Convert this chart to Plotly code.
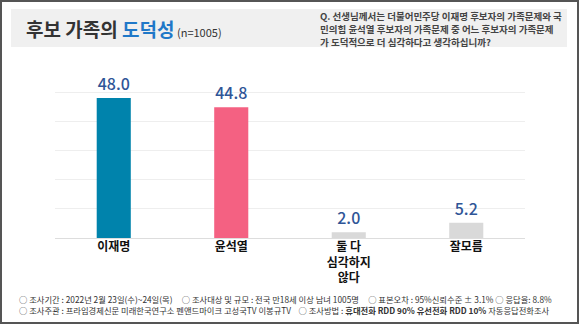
import plotly.graph_objects as go

categories = ["이재명", "윤석열", "둘 다<br>심각하지<br>않다", "잘모름"]
values = [48.0, 44.8, 2.0, 5.2]
bar_colors = ["#0083AC", "#F46182", "#D9D9D9", "#D9D9D9"]

title_main = "후보 가족의 "
title_accent = "도덕성"
title_n = "(n=1005)"
question_lines = [
    "Q. 선생님께서는 더불어민주당 이재명 후보자의 가족문제와 국",
    "민의힘 윤석열 후보자의 가족문제 중 어느 후보자의 가족문제",
    "가 도덕적으로 더 심각하다고 생각하십니까?",
]
footer_lines = [
    "○ 조사기간 : 2022년 2월 23일(수)~24일(목)     ○ 조사대상 및 규모 : 전국 만18세 이상 남녀 1005명     ○ 표본오차 : 95%신뢰수준 ± 3.1% ○ 응답율: 8.8%",
    "○ 조사주관 : 프라임경제신문 미래한국연구소 펜앤드마이크 고성국TV 이봉규TV    ○ 조사방법 : <b>휴대전화 RDD 90% 유선전화 RDD 10%</b> 자동응답전화조사",
]

W, H = 580, 326
ML, MR, MT, MB = 55, 55, 63, 88
PW, PH = W - ML - MR, H - MT - MB

def px(x):
    return (x - ML) / PW

def py(y):
    return (H - MB - y) / PH

FONT = "Noto Sans CJK KR"

fig = go.Figure(
    go.Bar(
        x=categories,
        y=values,
        marker=dict(color=bar_colors, line=dict(width=0)),
        width=0.29,
        text=[f"{v:.1f}" for v in values],
        textposition="outside",
        cliponaxis=False,
        textfont=dict(family=FONT, size=16, color="#2F5597", weight=500),
    )
)

shapes = [
    # outer frame
    dict(type="rect", xref="paper", yref="paper", x0=px(1), x1=px(578), y0=py(1), y1=py(323),
         line=dict(color="#555555", width=2), fillcolor="rgba(0,0,0,0)", layer="below"),
    # title band
    dict(type="rect", xref="paper", yref="paper", x0=px(11), x1=px(567), y0=py(9), y1=py(47),
         line=dict(width=0), fillcolor="#F0F0F0", layer="below"),
]

annotations = [
    dict(xref="paper", yref="paper", x=px(24), y=py(28), xanchor="left", yanchor="middle",
         showarrow=False,
         text=f"<b>{title_main}</b><b><span style='color:#1F78C8'>{title_accent}</span></b>"
              f"<span style='font-size:11px'> {title_n}</span>",
         font=dict(family=FONT, size=19, color="#333333")),
    dict(xref="paper", yref="paper", x=px(17), y=py(304.5), xanchor="left", yanchor="middle",
         align="left", showarrow=False,
         text="<br>".join(footer_lines),
         font=dict(family=FONT, size=8.3, color="#333333")),
]
for i, line in enumerate(question_lines):
    annotations.append(
        dict(xref="paper", yref="paper", x=px(318), y=py(16.5 + 12.8 * i), xanchor="left",
             yanchor="middle", align="left", showarrow=False,
             text=f"<b>{line}</b>",
             font=dict(family=FONT, size=9.5, color="#444444"))
    )

fig.update_layout(
    width=W, height=H,
    margin=dict(l=ML, r=MR, t=MT, b=MB),
    paper_bgcolor="white", plot_bgcolor="white",
    showlegend=False,
    shapes=shapes,
    annotations=annotations,
    bargap=0.2,
    font=dict(family=FONT),
)
fig.update_yaxes(range=[0, 60], dtick=10, showticklabels=False, gridcolor="#EEEEEE",
                 gridwidth=1, zeroline=True, zerolinecolor="#DDDDDD", zerolinewidth=1,
                 showline=False)
fig.update_xaxes(tickfont=dict(family=FONT, size=12, color="#111111"),
                 tickvals=categories, ticktext=[f"<b>{c}</b>" for c in categories],
                 showline=False, ticks="")

fig.write_html("out.html", config={"displayModeBar": False})
